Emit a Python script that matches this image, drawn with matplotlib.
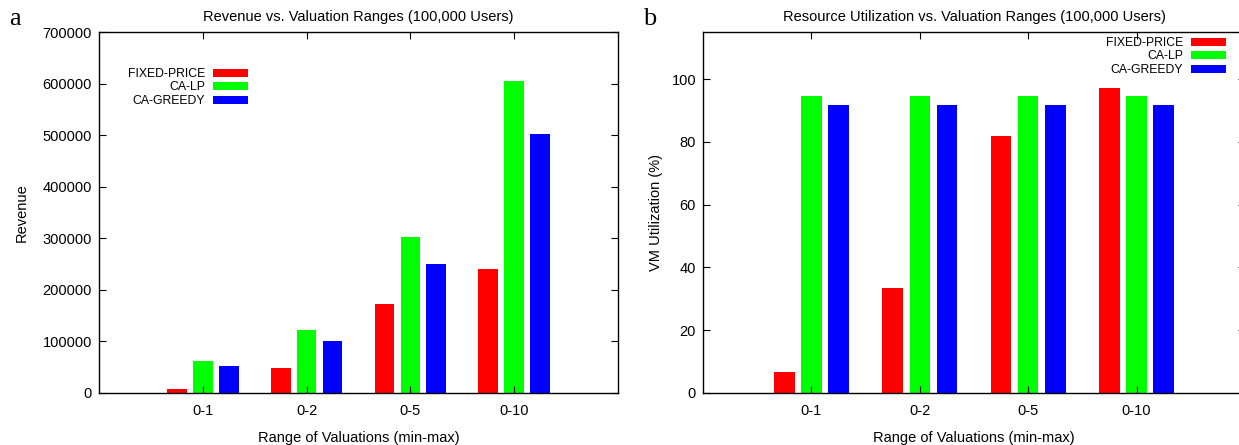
import numpy as np
import matplotlib
matplotlib.use("Agg")
import matplotlib.pyplot as plt

plt.rcParams['font.family'] = ['Liberation Sans', 'DejaVu Sans']

categories = ['0-1', '0-2', '0-5', '0-10']
series = ['FIXED-PRICE', 'CA-LP', 'CA-GREEDY']
colors = ['#ff0000', '#00ff00', '#0000ff']

revenue_fixed = [7100, 47800, 171700, 241400]
revenue_calp = [61300, 121400, 303400, 605500]
revenue_greedy = [51600, 100000, 251100, 502900]

util_fixed = [6.6, 33.3, 82.0, 97.2]
util_calp = [94.7, 94.7, 94.7, 94.7]
util_greedy = [91.8, 91.8, 91.8, 91.8]

fig = plt.figure(figsize=(12.39, 4.45), dpi=100)
ax1 = fig.add_axes([99/1239, 1-393/445, 519/1239, 361/445])
ax2 = fig.add_axes([703/1239, 1-393/445, 542/1239, 361/445])

x = np.arange(len(categories))
w = 0.19
off = 0.25
fs = 10.5

def draw(ax, data, title, ylabel, ylim, yticks, legend_anchor, ylpad):
    for i, (d, c, s) in enumerate(zip(data, colors, series)):
        ax.bar(x + (i-1)*off, d, w, color=c, label=s, linewidth=0)
    ax.set_xlim(-1, 4)
    ax.set_ylim(*ylim)
    ax.set_yticks(yticks)
    ax.set_xticks(x)
    ax.set_xticklabels(categories)
    ax.tick_params(direction='in', top=True, right=True, labelsize=fs,
                   length=5, width=0.8, pad=5)
    ax.tick_params(axis='x', pad=8)
    for sp in ax.spines.values():
        sp.set_linewidth(1.0)
    ax.set_title(title, fontsize=fs, pad=8)
    ax.set_xlabel('Range of Valuations (min-max)', fontsize=fs, labelpad=9)
    ax.set_ylabel(ylabel, fontsize=fs, labelpad=ylpad)
    ax.legend(loc='upper right', bbox_to_anchor=legend_anchor, frameon=False,
              markerfirst=False, fontsize=8.8, handlelength=2.85, handleheight=0.6,
              labelspacing=0.12, handletextpad=0.65, borderpad=0, borderaxespad=0)

draw(ax1, [revenue_fixed, revenue_calp, revenue_greedy],
     'Revenue vs. Valuation Ranges (100,000 Users)', 'Revenue',
     (0, 700000), np.arange(0, 700001, 100000),
     ((248-99)/519, (393-68)/361), 10)
draw(ax2, [util_fixed, util_calp, util_greedy],
     'Resource Utilization vs. Valuation Ranges (100,000 Users)', 'VM Utilization (%)',
     (0, 115), np.arange(0, 101, 20),
     ((1226-703)/542, (393-37)/361), 6)

fig.text(9/1239, 1-25/445, 'a', family='Liberation Serif', fontsize=19)
fig.text(643/1239, 1-25/445, 'b', family='Liberation Serif', fontsize=19)

fig.savefig('out.png', dpi=100)
